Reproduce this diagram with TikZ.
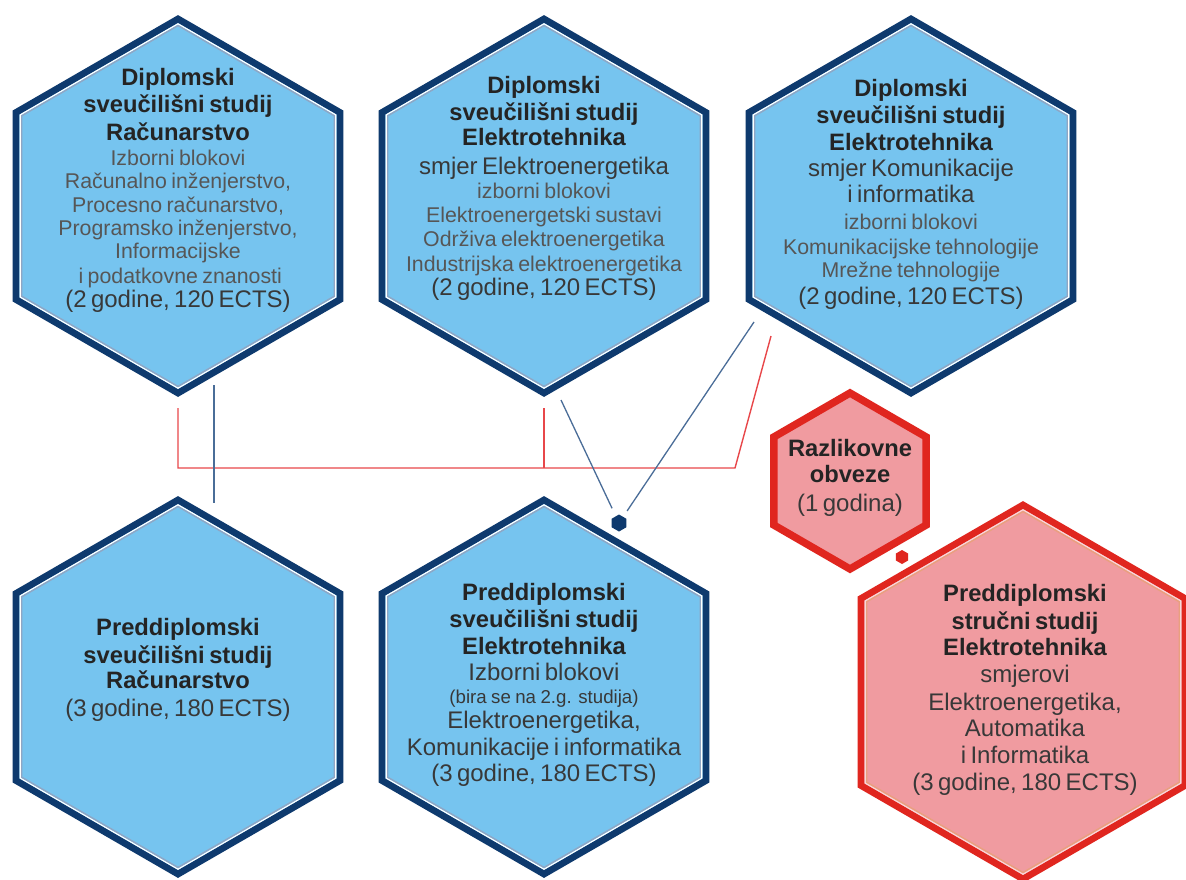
\documentclass[tikz,border=0pt]{standalone}
\usepackage{fontspec}
\setmainfont{Liberation Sans}
\usetikzlibrary{shapes.geometric,calc}
\definecolor{hexfill}{HTML}{76C4EF}
\definecolor{hexdark}{HTML}{0E3A6E}
\definecolor{hexline}{HTML}{8FA6C4}
\definecolor{redfill}{HTML}{F09BA0}
\definecolor{reddark}{HTML}{E0261F}
\definecolor{redline}{HTML}{E9A07E}
\definecolor{tdark}{HTML}{242424}
\definecolor{tgray}{HTML}{565656}
\definecolor{tmid}{HTML}{383838}
\definecolor{conred}{HTML}{E8474A}
\definecolor{conblue}{HTML}{4A6D98}
\setlength\parindent{0pt}
\setlength\parskip{0pt}
\lineskiplimit=-100pt
\newcommand\Lb[2][20.25pt]{{\fontsize{17.8pt}{#1}\selectfont\bfseries\leavevmode\color{tdark}#2\par}}
\newcommand\Lg[2][18pt]{{\fontsize{16pt}{#1}\selectfont\leavevmode\color{tgray}#2\par}}
\newcommand\Le[2][19.5pt]{{\fontsize{18pt}{#1}\selectfont\leavevmode\color{tmid}#2\par}}
\newcommand\Ls[2][17.25pt]{{\fontsize{14pt}{#1}\selectfont\leavevmode\color{tmid}#2\par}}
\tikzset{
  hexshape/.style={regular polygon, regular polygon sides=6, shape border rotate=30,
    inner sep=0pt, outer sep=0pt},
  txt/.style={text width=330*0.75pt, align=center, inner sep=0pt},
  bline/.style={draw=conblue, line width=1.3pt*0.75},
  rline/.style={draw=conred, line width=1.4pt*0.75},
}
\newcommand\BHex[4]{%
  \node[hexshape, fill=hexfill, draw=hexdark, line width=5.1pt, minimum size={2*(#4-4)*0.75pt}] (#1) at (#2,#3) {};
  \node[hexshape, draw=white, line width=0.9pt, minimum size={2*(#4-8.8)*0.75pt}] (#1-w) at (#1.center) {};
  \node[hexshape, draw=hexline, line width=1.0pt, minimum size={2*(#4-10.6)*0.75pt}] (#1-g) at (#1.center) {};
}
\newcommand\RHex[4]{%
  \node[hexshape, fill=redfill, draw=reddark, line width=5.1pt, minimum size={2*(#4-4)*0.75pt}] (#1) at (#2,#3) {};
  \node[hexshape, draw=white!60!redfill, line width=0.9pt, minimum size={2*(#4-8.8)*0.75pt}] (#1-w) at (#1.center) {};
  \node[hexshape, draw=redline, line width=1.0pt, minimum size={2*(#4-10.6)*0.75pt}] (#1-g) at (#1.center) {};
}
\begin{document}
\begin{tikzpicture}[x=0.75pt,y=-0.75pt]
\useasboundingbox (0,0) rectangle (1186,879);
\fill[white] (0,0) rectangle (1186,879);

% connectors (behind hexagons)
\coordinate (ra) at (178,408);
\coordinate (rb) at (178,468);
\coordinate (rc) at (735,468);
\coordinate (rd) at (771,336);
\coordinate (re) at (544,408);
\coordinate (rf) at (544,468);
\draw[rline] (ra) -- (rb) -- (rc) -- (rd);
\draw[rline] (re) -- (rf);

\coordinate (ba) at (214,385);
\coordinate (bb) at (214,503);
\draw[bline, line width=1.8pt*0.75] (ba) -- (bb);

% hexagons
\BHex{d1}{178}{206}{191}
\BHex{d2}{544}{206}{191}
\BHex{d3}{911}{206}{191}
\BHex{p1}{178}{687}{191}
\BHex{p2}{544}{687}{191}
\node[hexshape, fill=redfill, draw=reddark, line width=5.6pt, minimum size={2*(92-4)*0.75pt}] (rz) at (850,481) {};
\RHex{p3}{1023}{692}{191}

% junction dots
\node[hexshape, fill=hexdark, minimum size={17*0.75pt}] (jd) at (619,523) {};
\node[hexshape, fill=reddark, minimum size={14*0.75pt}] (rdot) at (902,557) {};

\coordinate (bc) at (561,400);
\coordinate (bd) at (754,322);
\draw[bline] (bc) -- ($(bc)!0.88!(jd)$) coordinate (be);
\draw[bline] (bd) -- ($(bd)!0.94!(jd)$) coordinate (bf);

% texts
\node[txt] (t1) at (178,190.4) {%
\Lb{Diplomski}
\Lb[20.25pt]{sveučilišni studij}
\Lb[21pt]{Računarstvo}
\Lg[18.75pt]{Izborni blokovi}
\Lg[17.25pt]{Računalno inženjerstvo,}
\Lg[18pt]{Procesno računarstvo,}
\Lg[17.25pt]{Programsko inženjerstvo,}
\Lg[17.25pt]{Informacijske}
\Lg[18.75pt]{\ i podatkovne znanosti}
\Le[18pt]{(2 godine, 120 ECTS)}};

\node[txt] (t2) at (544,188.5) {%
\Lb{Diplomski}
\Lb[20.25pt]{sveučilišni studij}
\Lb[18.75pt]{Elektrotehnika}
\Le[21.75pt]{smjer Elektroenergetika}
\Lg[18pt]{izborni blokovi}
\Lg[18pt]{Elektroenergetski sustavi}
\Lg[18pt]{Održiva elektroenergetika}
\Lg[18.75pt]{Industrijska elektroenergetika}
\Le[18pt]{(2 godine, 120 ECTS)}};

\node[txt] (t3) at (911,194.5) {%
\Lb{Diplomski}
\Lb[20.25pt]{sveučilišni studij}
\Lb[20.25pt]{Elektrotehnika}
\Le[19.5pt]{smjer Komunikacije}
\Le[19.5pt]{i informatika}
\Lg[20.25pt]{izborni blokovi}
\Lg[18.75pt]{Komunikacijske tehnologije}
\Lg[17.25pt]{Mrežne tehnologije}
\Le[20.25pt]{(2 godine, 120 ECTS)}};

\node[txt] (t4) at (178,670) {%
\Lb{Preddiplomski}
\Lb[21pt]{sveučilišni studij}
\Lb[18.75pt]{Računarstvo}
\Le[21pt]{(3 godine, 180 ECTS)}};

\node[txt] (t5) at (544,685) {%
\Lb{Preddiplomski}
\Lb[20.25pt]{sveučilišni studij}
\Lb[20.25pt]{Elektrotehnika}
\Le[19.5pt]{Izborni blokovi}
\Ls[17.25pt]{(bira se na 2.g. studija)}
\Le[18.75pt]{Elektroenergetika,}
\Le[20.25pt]{Komunikacije i informatika}
\Le[19.5pt]{(3 godine, 180 ECTS)}};

\node[txt] (t6) at (850,478) {%
\Lb{Razlikovne}
\Lb[19.5pt]{obveze}
\Le[21.75pt]{(1 godina)}};

\node[txt] (t7) at (1025,690) {%
\Lb{Preddiplomski}
\Lb[21pt]{stručni studij}
\Lb[19.5pt]{Elektrotehnika}
\Le[20.25pt]{smjerovi}
\Le[21pt]{Elektroenergetika,}
\Le[19.5pt]{Automatika}
\Le[20.25pt]{i Informatika}
\Le[20.25pt]{(3 godine, 180 ECTS)}};
\end{tikzpicture}
\end{document}
